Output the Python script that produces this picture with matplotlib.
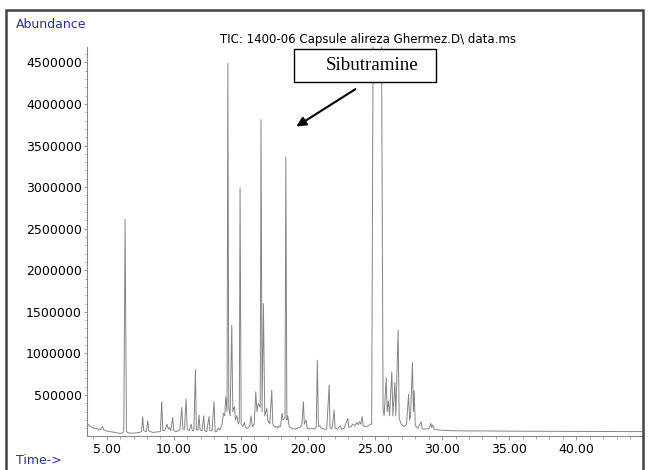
import matplotlib
matplotlib.use("Agg")
import matplotlib.pyplot as plt
from matplotlib.patches import Rectangle
from matplotlib.ticker import MultipleLocator, FormatStrFormatter

# retention time (min) and abundance of the TIC trace vertices
rt = [
    3.53, 3.65, 3.80, 3.95, 4.10, 4.25, 4.40, 4.55, 4.68, 4.78, 4.95, 5.20, 5.45, 5.70, 5.95, 6.15,
    6.27, 6.37, 6.47, 6.60, 6.90, 7.20, 7.45, 7.60, 7.68, 7.76, 7.95, 8.06, 8.14, 8.40, 8.70, 9.00,
    9.10, 9.18, 9.35, 9.50, 9.58, 9.66, 9.78, 9.92, 10.00, 10.20, 10.45, 10.59, 10.68, 10.80, 10.91, 11.00,
    11.15, 11.30, 11.38, 11.50, 11.61, 11.68, 11.80, 11.88, 11.96, 12.10, 12.23, 12.30, 12.45, 12.63, 12.70, 12.85,
    13.00, 13.08, 13.20, 13.30, 13.45, 13.60, 13.70, 13.80, 13.87, 13.97, 14.03, 14.10, 14.20, 14.32, 14.40, 14.52,
    14.60, 14.70, 14.80, 14.88, 14.94, 15.02, 15.15, 15.25, 15.35, 15.50, 15.65, 15.76, 15.85, 16.00, 16.11, 16.20,
    16.30, 16.44, 16.50, 16.58, 16.68, 16.78, 16.93, 17.00, 17.15, 17.30, 17.38, 17.50, 17.65, 17.75, 17.85, 17.95,
    18.07, 18.15, 18.29, 18.35, 18.43, 18.50, 18.60, 18.80, 19.00, 19.20, 19.40, 19.55, 19.66, 19.73, 19.86, 19.95,
    20.10, 20.30, 20.50, 20.62, 20.70, 20.78, 20.90, 21.00, 21.20, 21.40, 21.58, 21.65, 21.80, 21.95, 22.02, 22.20,
    22.40, 22.50, 22.70, 22.97, 23.05, 23.20, 23.35, 23.50, 23.65, 23.75, 23.85, 23.95, 24.04, 24.12, 24.30, 24.50,
    24.65, 24.75, 24.86, 25.20, 25.48, 25.60, 25.68, 25.83, 25.90, 26.00, 26.08, 26.25, 26.33, 26.48, 26.55, 26.72,
    26.80, 26.95, 27.10, 27.20, 27.35, 27.50, 27.58, 27.65, 27.79, 27.86, 27.92, 28.00, 28.20, 28.44, 28.52, 28.80,
    29.05, 29.16, 29.22, 29.30, 29.40, 29.70, 30.00, 31.00, 32.00, 33.00, 34.00, 35.00, 36.50, 38.00, 39.50, 41.00,
    42.50, 44.00, 44.90,
]
abundance = [
    160000, 140000, 120000, 110000, 95000, 100000, 80000, 85000, 120000, 80000, 70000, 60000, 55000, 45000, 40000, 40000,
    60000, 2610000, 60000, 45000, 40000, 45000, 50000, 60000, 240000, 70000, 60000, 190000, 70000, 50000, 55000, 60000,
    420000, 70000, 80000, 150000, 90000, 110000, 70000, 230000, 70000, 60000, 80000, 350000, 90000, 90000, 450000, 90000,
    70000, 150000, 70000, 70000, 810000, 80000, 80000, 260000, 80000, 70000, 250000, 70000, 60000, 240000, 70000, 70000,
    420000, 60000, 60000, 100000, 80000, 150000, 280000, 250000, 480000, 300000, 4490000, 350000, 250000, 1340000, 300000, 360000,
    200000, 250000, 150000, 180000, 2990000, 150000, 120000, 170000, 110000, 100000, 120000, 250000, 120000, 150000, 540000, 300000,
    400000, 350000, 3810000, 300000, 1600000, 250000, 340000, 200000, 150000, 560000, 150000, 120000, 120000, 100000, 130000, 120000,
    280000, 200000, 220000, 3360000, 200000, 250000, 120000, 100000, 90000, 100000, 110000, 150000, 420000, 150000, 200000, 100000,
    90000, 100000, 90000, 120000, 920000, 120000, 130000, 100000, 90000, 90000, 620000, 100000, 100000, 320000, 100000, 90000,
    130000, 90000, 100000, 220000, 110000, 120000, 150000, 130000, 170000, 140000, 180000, 150000, 240000, 130000, 120000, 130000,
    150000, 150000, 4900000, 5000000, 4900000, 320000, 250000, 710000, 300000, 430000, 250000, 780000, 250000, 650000, 250000, 1280000,
    220000, 150000, 130000, 120000, 150000, 510000, 200000, 250000, 890000, 300000, 550000, 130000, 100000, 180000, 90000, 90000,
    100000, 160000, 110000, 140000, 90000, 80000, 75000, 70000, 68000, 68000, 66000, 65000, 64000, 63000, 63000, 62000,
    61000, 60000, 60000,
]

y_ticks = [500000, 1000000, 1500000, 2000000, 2500000, 3000000, 3500000, 4000000, 4500000]
x_ticks = [5, 10, 15, 20, 25, 30, 35, 40]

title = "TIC: 1400-06 Capsule alireza Ghermez.D\\ data.ms"
label_color = "#2e3192"

W, H = 648, 470
fig = plt.figure(figsize=(W / 100, H / 100), dpi=100)
ax = fig.add_axes([87 / W, 1 - 435.5 / H, (642 - 87) / W, (435.5 - 47) / H])

ax.plot(rt, abundance, color="#858585", lw=0.7)
ax.set_xlim(3.53, 44.9)
ax.set_ylim(13000, 4685000)

ax.set_yticks(y_ticks)
ax.set_xticks(x_ticks)
ax.xaxis.set_major_formatter(FormatStrFormatter("%.2f"))
ax.yaxis.set_major_formatter(FormatStrFormatter("%d"))
ax.xaxis.set_minor_locator(MultipleLocator(1))
ax.yaxis.set_minor_locator(MultipleLocator(100000))

for side in ["top", "right"]:
    ax.spines[side].set_visible(False)
for side in ["left", "bottom"]:
    ax.spines[side].set_color("#8a8a8a")
    ax.spines[side].set_linewidth(0.8)

ax.tick_params(which="major", direction="out", length=3.2, width=0.6, color="#8a8a8a",
               labelsize=9, pad=2)
ax.tick_params(which="minor", direction="out", length=1.8, width=0.5, color="#8a8a8a")
ax.tick_params(axis="y", which="major", length=2.2, pad=1.5)

fig.text(16 / W, 1 - 24 / H, "Abundance", color=label_color, fontsize=9, ha="left", va="center")
fig.text(16 / W, 1 - 460 / H, "Time->", color=label_color, fontsize=9, ha="left", va="center")
fig.text(368 / W, 1 - 40 / H, title, fontsize=8.5, ha="center", va="center")

# annotation box + arrow
fig.patches.append(Rectangle((294 / W, 1 - 82.3 / H), 142 / W, 33 / H, transform=fig.transFigure,
                             facecolor="white", edgecolor="black", lw=1, zorder=3))
fig.text(372.5 / W, 1 - 66 / H, "Sibutramine", family="Liberation Serif", fontsize=13.7,
         ha="center", va="center", zorder=4)
ax.annotate("", xy=(294 / W, 1 - 128 / H), xytext=(357.7 / W, 1 - 87.7 / H),
            xycoords="figure fraction", textcoords="figure fraction",
            arrowprops=dict(arrowstyle="-|>", color="black", lw=1.5, mutation_scale=14))

# outer frame
fig.patches.append(Rectangle((6 / W, -0.01), (643 - 6) / W, 1.01 - 10 / H, transform=fig.transFigure,
                             fill=False, edgecolor="#444444", lw=1.8, zorder=5))

fig.savefig("out.png", dpi=100)
